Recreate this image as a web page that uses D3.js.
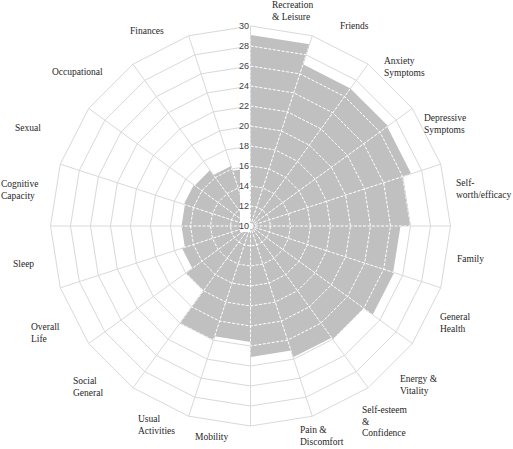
<!DOCTYPE html>
<html>
<head>
<meta charset="utf-8">
<title>Quality of life radar</title>
<script src="https://d3js.org/d3.v7.min.js"></script>
<style>
    html, body { margin: 0; padding: 0; background: #fff; }
    svg { display: block; }
    .cat {
        font-family: "Liberation Serif", "Times New Roman", serif;
        font-size: 9.5px;
        fill: #262626;
    }
    .tick {
        font-family: "Liberation Sans", Arial, sans-serif;
        font-size: 9px;
        fill: #404040;
    }
</style>
</head>
<body>
<svg id="chart" width="513" height="449"></svg>
<script>
// one wedge per category, clockwise from 12 o'clock (last wedge has no label)
const categories = [
    "Recreation\n& Leisure", "Friends", "Anxiety\nSymptoms", "Depressive\nSymptoms",
    "Self-\nworth/efficacy", "Family", "General\nHealth", "Energy &\nVitality",
    "Self-esteem\n&\nConfidence", "Pain &\nDiscomfort", "Mobility", "Usual\nActivities",
    "Social\nGeneral", "Overall\nLife", "Sleep", "Cognitive\nCapacity", "Sexual",
    "Occupational", "Finances", ""
];
const scores = [29.1, 27, 27, 26.9, 26, 25, 25.1, 24, 23.8, 23.1,
                21.6, 22, 18, 17.2, 16.9, 16.9, 17, 16.9, 16.3, 15.8];
const levels = [12, 14, 16, 18, 20, 22, 24, 26, 28, 30];
const tickLabels = ["10", "12", "14", "16", "18", "20", "22", "24", "26", "28", "30"];

// where each category label sits: left edge, middle of first line (page px)
const labelAt = [[272, 5], [340, 26], [384, 61], [424, 118], [456, 183], [457, 259],
                 [440, 317], [400, 379], [362, 410], [300, 430], [195, 437], [138, 419],
                 [73, 381], [31, 327], [13, 264], [1, 184], [15, 128], [52, 72], [130, 31]];
const lineGap = 11.5;

const cx = 250.5, cy = 226, R = 200;
const n = categories.length;

const r = d3.scaleLinear().domain([10, 30]).range([0, R]);
const a = d3.scaleLinear().domain([0, n]).range([0, 2 * Math.PI]);

const radial = d3.lineRadial()
    .angle(d => d[0])
    .radius(d => d[1])
    .curve(d3.curveLinearClosed);

const svg = d3.select("#chart");
const g = svg.append("g").attr("transform", `translate(${cx},${cy})`);

function drawGrid(sel, stroke, dash) {
    sel.selectAll("path.ring")
        .data(levels)
        .enter()
        .append("path")
        .attr("class", "ring")
        .attr("d", lv => radial(d3.range(n).map(k => [a(k), r(lv)])))
        .attr("fill", "none")
        .attr("stroke", stroke)
        .attr("stroke-width", 1)
        .attr("stroke-dasharray", dash);

    sel.selectAll("line.spoke")
        .data(d3.range(n))
        .enter()
        .append("line")
        .attr("class", "spoke")
        .attr("x1", 0).attr("y1", 0)
        .attr("x2", k => R * Math.sin(a(k)))
        .attr("y2", k => -R * Math.cos(a(k)))
        .attr("stroke", stroke)
        .attr("stroke-width", 1)
        .attr("stroke-dasharray", dash);
}

// grey grid under the fill
drawGrid(g.append("g"), "#d9d9d9", null);

// wedges
const wedge = (v, i) => radial([[0, 0], [a(i), r(v)], [a(i + 1), r(v)]]);

g.append("g")
    .selectAll("path")
    .data(scores)
    .enter()
    .append("path")
    .attr("d", wedge)
    .attr("fill", "#c0c0c0");

// white dashed grid only where it crosses the fill
svg.append("defs").append("clipPath")
    .attr("id", "fillClip")
    .selectAll("path")
    .data(scores)
    .enter()
    .append("path")
    .attr("d", wedge);

drawGrid(g.append("g").attr("clip-path", "url(#fillClip)"), "#ffffff", "3,1.5");

// axis labels on a white strip left of the top spoke
g.append("rect")
    .attr("x", -10.5)
    .attr("y", -R - 6)
    .attr("width", 10)
    .attr("height", R + 12)
    .attr("fill", "#fff");

g.append("g")
    .selectAll("text")
    .data(tickLabels)
    .enter()
    .append("text")
    .attr("class", "tick")
    .attr("x", -1.5)
    .attr("y", d => -r(+d))
    .attr("dy", "0.35em")
    .attr("text-anchor", "end")
    .text(d => d);

// category labels, left aligned like the original
categories.forEach((name, i) => {
    if (!name) return;
    const [lx, ly] = labelAt[i];
    const t = svg.append("text")
        .attr("class", "cat")
        .attr("x", lx)
        .attr("y", ly)
        .attr("dy", "0.35em");
    name.split("\n").forEach((line, j) => {
        t.append("tspan")
            .attr("x", lx)
            .attr("dy", j === 0 ? "0.35em" : lineGap)
            .text(line);
    });
});
</script>
</body>
</html>
